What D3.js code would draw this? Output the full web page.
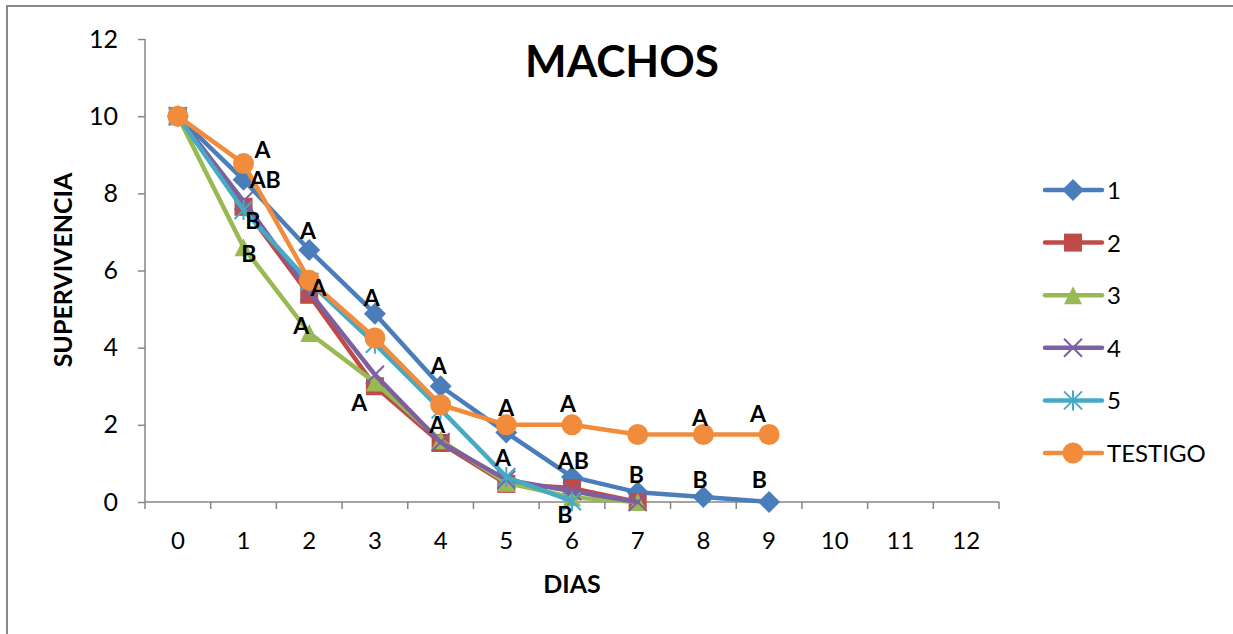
<!DOCTYPE html>
<html><head><meta charset="utf-8">
<script src="https://cdn.jsdelivr.net/npm/d3@7"></script>
<style>body{margin:0;background:#fff}svg{display:block}text{font-family:Lato,"Open Sans",sans-serif}</style>
</head><body><svg id="c" width="1233" height="634"></svg>
<script>
const days = [0,1,2,3,4,5,6,7,8,9,10,11,12];
const yTicks = [0,2,4,6,8,10,12];
const seriesNames = ["1","2","3","4","5","TESTIGO"];
const s1 = [10, 8.35, 6.53, 4.88, 3.0, 1.8, 0.65, 0.25, 0.13, 0];
const s2 = [10, 7.65, 5.37, 3.0, 1.53, 0.47, 0.36, 0];
const s3 = [10, 6.6, 4.38, 3.1, 1.6, 0.5, 0.12, 0];
const s4 = [10, 7.8, 5.45, 3.3, 1.55, 0.58, 0.28, 0];
const s5 = [10, 7.57, 5.7, 4.1, 2.4, 0.65, 0.02];
const sT = [10, 8.77, 5.75, 4.25, 2.52, 2.0, 2.0, 1.75, 1.75, 1.75];
const colors = ["#4A7EBB","#BE4B48","#98B954","#7D60A0","#46AAC5","#F08C3C"];
const symbols = ["diamond","square","triangle","x","star","circle"];
// significance letters: [day, dayOffset, value, text]
const letters = [
 [1,0.29,9.12,"A"],[1,0.33,8.35,"AB"],[1,0.14,7.28,"B"],[1,0.08,6.43,"B"],
 [2,-0.02,7.02,"A"],[2,0.14,5.55,"A"],[2,-0.12,4.56,"A"],
 [3,-0.05,5.29,"A"],[3,-0.24,2.57,"A"],
 [4,-0.03,3.53,"A"],[4,-0.05,2.0,"A"],
 [5,0.0,2.44,"A"],[5,-0.05,1.14,"A"],
 [6,-0.06,2.54,"A"],[6,0.02,1.06,"AB"],[6,-0.11,-0.34,"B"],
 [7,-0.02,0.70,"B"],
 [8,-0.05,2.18,"A"],[8,-0.05,0.57,"B"],
 [9,-0.17,2.28,"A"],[9,-0.15,0.57,"B"]
];
const allSeries = [s1,s2,s3,s4,s5,sT];

const svg = d3.select("#c");
svg.append("rect").attr("x",7).attr("y",6).attr("width",1240).attr("height",640)
  .attr("fill","none").attr("stroke","#898989").attr("stroke-width",2);

const x = d3.scaleBand().domain(days).range([145,999]).paddingInner(0).paddingOuter(0);
const y = d3.scaleLinear().domain([0,12]).range([502,39]);
const cx = d => x(d) + x.bandwidth()/2;

// y axis
const ya = svg.append("g").attr("transform","translate(145,0)")
  .call(d3.axisLeft(y).tickValues(yTicks).tickSize(7).tickPadding(20));
ya.select(".domain").attr("stroke","#868686").attr("stroke-width",1.5).attr("d","M0,39V502");
ya.selectAll(".tick line").attr("stroke","#868686").attr("stroke-width",1.5);
ya.selectAll(".tick text").attr("font-size",25).attr("fill","#000").attr("font-family","Lato,sans-serif");

// x axis
const xa = svg.append("g").attr("transform","translate(0,502)");
xa.append("line").attr("x1",145).attr("x2",999).attr("stroke","#868686").attr("stroke-width",1.5);
const bounds = d3.range(days.length+1).map(i => 145 + i*x.bandwidth());
xa.selectAll("line.t").data(bounds).join("line").attr("class","t")
  .attr("x1",d=>d).attr("x2",d=>d).attr("y1",0).attr("y2",7)
  .attr("stroke","#868686").attr("stroke-width",1.5);
xa.selectAll("text").data(days).join("text").attr("x",d=>cx(d)).attr("y",47)
  .attr("text-anchor","middle").attr("font-size",24).text(d=>d);

// titles
svg.append("text").attr("x",622).attr("y",77).attr("text-anchor","middle")
  .attr("font-size",44).attr("font-weight","bold").attr("font-family","'Open Sans',sans-serif").text("MACHOS");
svg.append("text").attr("transform","translate(72,270) rotate(-90)").attr("text-anchor","middle")
  .attr("font-size",25).attr("font-weight","bold").attr("font-family","'Open Sans',sans-serif").text("SUPERVIVENCIA");
svg.append("text").attr("x",572).attr("y",593).attr("text-anchor","middle")
  .attr("font-size",25).attr("font-weight","bold").attr("font-family","'Open Sans',sans-serif").text("DIAS");

function marker(g, type, color, px, py){
  switch(type){
    case "diamond": g.append("path").attr("transform",`translate(${px},${py})`).attr("d","M0,-11L11,0L0,11L-11,0Z").attr("fill",color); break;
    case "square": g.append("rect").attr("x",px-9).attr("y",py-9).attr("width",18).attr("height",18).attr("fill",color); break;
    case "triangle": g.append("path").attr("transform",`translate(${px},${py})`).attr("d","M0,-9L9,9L-9,9Z").attr("fill",color); break;
    case "x": g.append("path").attr("transform",`translate(${px},${py})`).attr("d","M-9,-9L9,9M9,-9L-9,9").attr("stroke",color).attr("stroke-width",2).attr("fill","none"); break;
    case "star": g.append("path").attr("transform",`translate(${px},${py})`).attr("d","M-9,-9L9,9M9,-9L-9,9M0,-10V10").attr("stroke",color).attr("stroke-width",2).attr("fill","none"); break;
    case "circle": g.append("circle").attr("cx",px).attr("cy",py).attr("r",10.5).attr("fill",color); break;
  }
}

const line = d3.line().x((d,i)=>cx(days[i])).y(d=>y(d));
allSeries.forEach((s,k)=>{
  const g = svg.append("g");
  g.append("path").attr("d",line(s)).attr("fill","none").attr("stroke",colors[k])
    .attr("stroke-width",4.5).attr("stroke-linejoin","round").attr("stroke-linecap","round");
  s.forEach((v,i)=>marker(g, symbols[k], colors[k], cx(days[i]), y(v)));
});

// letters
svg.append("g").selectAll("text").data(letters).join("text")
  .attr("x",d=>cx(d[0]) + d[1]*x.bandwidth()).attr("y",d=>y(d[2])+8)
  .attr("text-anchor","middle").attr("font-size",23).attr("font-weight","bold")
  .attr("font-family","'Open Sans',sans-serif").text(d=>d[3]);

// legend
const lg = svg.append("g");
seriesNames.forEach((n,k)=>{
  const ly = 190 + k*52.6;
  lg.append("line").attr("x1",1045).attr("x2",1102).attr("y1",ly).attr("y2",ly)
    .attr("stroke",colors[k]).attr("stroke-width",4.5).attr("stroke-linecap","round");
  marker(lg, symbols[k], colors[k], 1073, ly);
  lg.append("text").attr("x",1107).attr("y",ly+9).attr("font-size",24).text(n);
});
</script></body></html>
